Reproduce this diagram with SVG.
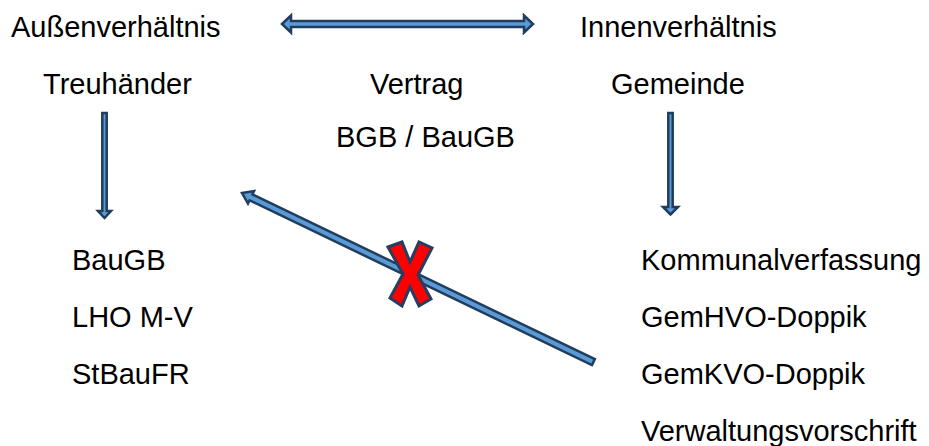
<svg xmlns="http://www.w3.org/2000/svg" width="929" height="446" viewBox="0 0 929 446">
  <style>
    text { font-family: "Liberation Sans", Arial, sans-serif; font-size: 29px; fill: #000; }
    .arrow { fill: #5B9BD5; stroke: #203D5F; stroke-width: 2.5; stroke-linejoin: miter; }
    .cross { fill: #FF0000; stroke: #243F60; stroke-width: 3; stroke-linejoin: miter; }
  </style>
  <rect width="929" height="446" fill="#FFFFFF"/>

  <!-- connectors -->
  <g id="connectors">
    <!-- two-headed arrow between outer and inner relation -->
    <polygon class="arrow" points="282,24 291,15.5 291,21 524,21 524,15.5 533,24 524,32.5 524,27 291,27 291,32.5"/>
    <!-- Treuhänder down arrow -->
    <polygon class="arrow" points="102.3,113 106.7,113 106.7,211 111,211 104.5,218 98,211 102.3,211"/>
    <!-- Gemeinde down arrow -->
    <polygon class="arrow" points="668.3,113 672.7,113 672.7,207 678,207 670.5,214.5 663,207 668.3,207"/>
    <!-- diagonal arrow from the municipal rules back to the trustee rules -->
    <polygon class="arrow" transform="translate(242,193) rotate(25.7)" points="0,0 10,-7 10,-3.3 390,-3.3 390,3.3 10,3.3 10,7"/>
    <!-- crossed out -->
    <polygon class="cross" points="388,247 402,242 410,262 419,242 432,248 418,275 431,299 419,306 410,287 402,306 390,298 403,274"/>
  </g>

  <g id="aussenverhaeltnis"><text x="11" y="37">Außenverhältnis</text></g>
  <g id="innenverhaeltnis"><text x="580" y="37">Innenverhältnis</text></g>
  <g id="treuhaender"><text x="43" y="94">Treuhänder</text></g>
  <g id="vertrag">
    <text x="370" y="94">Vertrag</text>
    <text x="336" y="147">BGB / BauGB</text>
  </g>
  <g id="gemeinde"><text x="611" y="94">Gemeinde</text></g>
  <g id="treuhaender-rechtsgrundlagen">
    <text x="72" y="270">BauGB</text>
    <text x="72" y="327">LHO M-V</text>
    <text x="72" y="384">StBauFR</text>
  </g>
  <g id="gemeinde-rechtsgrundlagen">
    <text x="641" y="270">Kommunalverfassung</text>
    <text x="641" y="327">GemHVO-Doppik</text>
    <text x="641" y="384">GemKVO-Doppik</text>
    <text x="641" y="441">Verwaltungsvorschrift</text>
  </g>
</svg>
